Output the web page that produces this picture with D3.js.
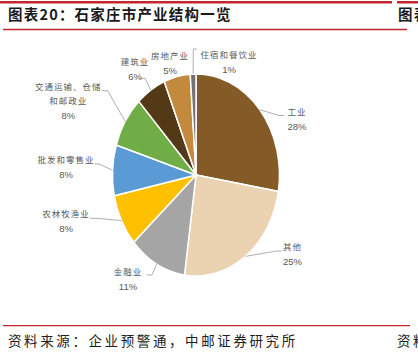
<!DOCTYPE html>
<html><head><meta charset="utf-8">
<script src="https://cdn.jsdelivr.net/npm/d3@7"></script>
<style>
html,body{margin:0;padding:0;background:#fff;}
svg{display:block;}
</style>
</head><body>
<svg id="c" width="418" height="356"></svg>
<script>
// ---- data ----
const categories = ["工业","其他","金融业","农林牧渔业","批发和零售业","交通运输、仓储和邮政业","建筑业","房地产业","住宿和餐饮业"];
const nameLines = [["工业"],["其他"],["金融业"],["农林牧渔业"],["批发和零售业"],["交通运输、仓储","和邮政业"],["建筑业"],["房地产业"],["住宿和餐饮业"]];
const shares = [27.6,24.6,11.2,8.3,8.1,8.2,5.8,5.1,1.1];
const colors = ["#845a26","#ebd3b2","#a5a5a5","#ffc000","#5b9bd5","#70ad47","#533916","#c38a3e","#737373"];

// ---- layout (label anchors, leader elbows) ----
const labelLayout = [
  {x:297, y:112, elbow:[279,115.5], end:[284,115.5]},
  {x:292.5, y:247.5, elbow:[276.5,251], end:[281.5,251]},
  {x:128, y:272, elbow:[152,275], end:[146.5,275]},
  {x:66, y:214.3, elbow:[96,218.3], end:[90,218.3]},
  {x:66, y:160, elbow:[99,164], end:[94.3,164]},
  {x:68.3, y:86.7, elbow:[107.7,90.7], end:[101.7,90.7]},
  {x:135, y:61.7, elbow:[145,78.3], end:[140,78.3]},
  {x:170, y:55.7, elbow:null, end:null},
  {x:229, y:55, elbow:[193.3,49], end:[197,49]}
];

const svg = d3.select("#c");
const red = "#c3262c";

// header / footer rules
svg.append("rect").attr("x",0).attr("y",1).attr("width",392).attr("height",2.5).attr("fill",red);
svg.append("rect").attr("x",397).attr("y",1).attr("width",21).attr("height",2.5).attr("fill",red);
svg.append("line").attr("x1",3).attr("x2",407).attr("y1",29.5).attr("y2",29.5).attr("stroke",red).attr("stroke-width",1.3);
svg.append("line").attr("x1",3).attr("x2",410).attr("y1",325.7).attr("y2",325.7).attr("stroke",red).attr("stroke-width",1.3);

svg.append("text").attr("x",8).attr("y",20).text("图表20：石家庄市产业结构一览")
  .attr("font-family","'Noto Sans CJK SC'").attr("font-weight","bold").attr("font-size",14.5)
  .attr("letter-spacing",1.2).attr("fill","#1a1a1a");
svg.append("text").attr("x",398).attr("y",20).text("图表")
  .attr("font-family","'Noto Sans CJK SC'").attr("font-weight","bold").attr("font-size",14.5)
  .attr("letter-spacing",1.2).attr("fill","#1a1a1a");
svg.append("text").attr("x",8).attr("y",346).text("资料来源：企业预警通，中邮证券研究所")
  .attr("font-family","'Noto Sans CJK SC'").attr("font-size",13.5)
  .attr("letter-spacing",2.6).attr("fill","#222");
svg.append("text").attr("x",397).attr("y",346).text("资料")
  .attr("font-family","'Noto Sans CJK SC'").attr("font-size",13.5)
  .attr("letter-spacing",2.6).attr("fill","#222");

// ---- pie ----
const cx = 196, cy = 175, rx = 83.5, ry = 101;
const total = d3.sum(shares);
const pie = d3.pie().sort(null).value(d => d)(shares);
const arc = d3.arc().innerRadius(0).outerRadius(rx);

const g = svg.append("g").attr("transform",`translate(${cx},${cy}) scale(1,${ry/rx})`);
g.selectAll("path").data(pie).join("path")
  .attr("d",arc)
  .attr("fill",(d,i)=>colors[i])
  .attr("stroke","#fff").attr("stroke-width",1.5)
  .attr("vector-effect","non-scaling-stroke");

// ---- leaders & labels ----
const labelColor = "#595959";
pie.forEach((d,i)=>{
  const L = labelLayout[i];
  const a = (d.startAngle + d.endAngle)/2;
  const ex = cx + rx*Math.sin(a), ey = cy - ry*Math.cos(a);
  if (L.elbow) {
    svg.append("polyline")
      .attr("points",[[ex,ey],L.elbow,L.end].map(p=>p.join(",")).join(" "))
      .attr("fill","none").attr("stroke","#a6a6a6").attr("stroke-width",0.9);
  }
  const lines = nameLines[i];
  lines.forEach((t,k)=>{
    svg.append("text").attr("x",L.x).attr("y",L.y + k*14.3).attr("dy","0.35em")
      .attr("text-anchor","middle").text(t)
      .attr("font-family","'Noto Sans CJK SC'").attr("font-size",8.5)
      .attr("letter-spacing",1).attr("fill",labelColor);
  });
  svg.append("text").attr("x",L.x).attr("y",L.y + lines.length*14.3 + 0.3).attr("dy","0.35em")
    .attr("text-anchor","middle").text(Math.round(d.data/total*100)+"%")
    .attr("font-family","'Liberation Sans Narrow','Liberation Sans'").attr("font-size",9.5)
    .attr("fill",labelColor);
});
</script>
</body></html>
